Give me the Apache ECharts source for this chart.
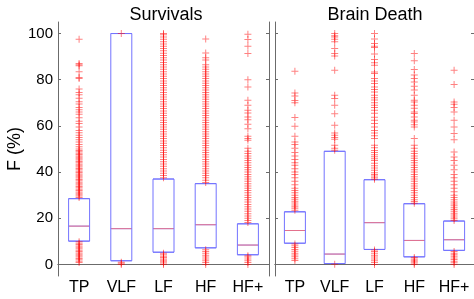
<!DOCTYPE html>
<html>
<head>
<meta charset="utf-8">
<script src="https://cdn.jsdelivr.net/npm/echarts@6/dist/echarts.min.js"></script>
<style>
  html, body { margin: 0; padding: 0; background: #fff; }
  #chart { width: 474px; height: 299px; }
</style>
</head>
<body>
<div id="chart"></div>
<script>
const categories = ['TP', 'VLF', 'LF', 'HF', 'HF+']
const yTicks = [0, 20, 40, 60, 80, 100]

// Survivals: quartiles + median
const survQ1 = [10.1, 1.6, 5.3, 7.2, 4.2]
const survMedian = [16.6, 15.5, 15.5, 17.2, 8.4]
const survQ3 = [28.5, 100, 37, 35, 17.6]

// Brain Death: quartiles + median
const bdQ1 = [9.2, 0.4, 6.5, 3.3, 6.1]
const bdMedian = [14.7, 4.5, 18.1, 10.4, 10.7]
const bdQ3 = [22.8, 49, 36.7, 26.3, 18.8]

// outliers
const survOutTP = [0.8, 1.4, 2, 2.6, 3.2, 3.8, 4.4, 5, 5.6, 6.2, 6.8, 7.4, 8, 8.6, 9.2, 9.8,
  29, 29.6, 30.2, 30.8, 31.4, 32, 32.6, 33.2, 33.8, 34.4, 35, 35.6, 36.2, 36.8, 37.4, 38, 38.6,
  39.2, 39.8, 40.4, 41, 41.6, 42.2, 42.8, 43.4, 44, 44.6, 45.2, 45.8, 46.4, 47, 47.6, 48.2, 48.8,
  49.4, 50, 51, 52, 53, 54, 55, 56, 57, 58, 59.5, 61, 62, 63.5, 65, 66, 67, 68, 69.5, 70.5, 72,
  73.5, 74.5, 76, 80.5, 81, 83.5, 86, 86.5, 87, 97.5]
const survOutVLF = [0, 0.5, 1, 100]
const survOutLF = [0, 0.6, 1.2, 1.8, 2.4, 3, 3.6, 4.2, 4.8,
  37.5, 38.5, 39.5, 40.5, 41.5, 42.5, 43.5, 44.5, 45.5, 46.5, 47.5, 48.5, 49.5, 50.5, 51.5, 52.5,
  53.5, 54.5, 55.5, 56.5, 57.5, 58.5, 59.5, 60.5, 61.5, 62.5, 63.5, 64.5, 65.5, 66.5, 67.5, 68.5,
  69.5, 70.5, 71.5, 72.5, 73.5, 74.5, 75.5, 76.5, 77.5, 78.5, 79.5, 80.5, 81.5, 82.5, 83.5, 84.5,
  85.5, 86.5, 87.5, 88.5, 89.5, 90.5, 91.5, 92.5, 93.5, 94.5, 95.5, 96.5, 97.5, 98.5, 99.5, 100]
const survOutHF = [0, 0.8, 1.6, 2.4, 3.2, 4, 4.8, 5.6, 6.4,
  35.5, 36.5, 37.5, 38.5, 39.5, 40.5, 41.5, 42.5, 43.5, 44.5, 45.5, 46.5, 47.5, 48.5, 49.5, 50.5,
  51.5, 52.5, 53.5, 54.5, 55.5, 56.5, 57.5, 58.5, 59.5, 60.5, 61.5, 62.5, 63.5, 64.5, 65.5, 66.5,
  67.5, 68.5, 69.5, 70.5, 71.5, 72.5, 73.5, 74.5, 75.5, 76.5, 77.5, 78.5, 79.5, 80.5, 81.5, 82.5,
  83.5, 84.5, 85.5, 86.5, 88.5, 89.5, 91.6, 97.6]
const survOutHFp = [0, 0.8, 1.6, 2.4, 3.2, 3.8,
  18.2, 19, 20, 21, 22, 23, 24, 25, 26, 27, 28, 29, 30, 31, 32, 33, 34, 35, 36, 37, 38, 39, 40,
  41, 42, 43, 44, 45, 46, 47, 48, 49, 50.3, 53.8, 54.5, 55.5, 58.8, 60.7, 62.7, 63.9, 65.6, 66.8,
  69, 71.1, 76.9, 80, 91.4, 94.5, 97.4, 99.7]

const bdOutTP = [1.7, 2.5, 3.3, 4.1, 4.9, 5.7, 6.5, 7.3, 8.1, 8.9,
  23.5, 24.3, 25, 25.8, 26.6, 27.4, 28.2, 29, 30, 31, 32, 33, 34.5, 36, 37.5, 39, 40, 41.5, 43,
  44, 45.5, 47, 48.5, 50.3, 52, 53, 55.5, 59.8, 63.6, 70, 71, 72.9, 74.3, 83.7]
const bdOutVLF = [0.1, 49.5, 50.3, 51.6, 54.2, 55, 56, 56.9, 60.3, 65.3, 69, 71.9, 73.3, 84.1,
  90.3, 91.4, 93.5, 96.5, 97.5, 98.5, 99, 100]
const bdOutLF = [0, 0.8, 1.6, 2.4, 3.2, 4, 4.8, 5.6, 6.3,
  36.9, 37.6, 38.3, 39, 39.7, 40.8, 41.8, 42.8, 43.8, 45, 45.8, 46.6, 47.5, 48.5, 49.4, 50.5, 51.6,
  54.6, 55.7, 56.9, 58, 59.5, 61, 62.5, 63.8, 65.5, 66.8, 68, 69, 70, 71.2, 72.2, 73.3, 74.7,
  75.8, 76.9, 78.4, 79.5, 80.5, 82.7, 83.4, 86.3, 87.3, 88.8, 91.1, 94, 94.5, 95.7, 97.6, 100]
const bdOutHF = [0, 0.6, 1.2, 1.8, 2.4, 3,
  26.5, 27.3, 28, 29, 30, 31, 32, 33, 34, 35, 36, 37, 38, 39, 40, 41, 42, 43, 44, 45, 46, 47,
  48, 49, 50.3, 51.6, 54.5, 59.5, 60.5, 61.7, 62.5, 63.9, 65.4, 66, 67.7, 69, 70.4, 71.1, 73.3,
  75.5, 77.2, 79, 80.5, 82, 84.4, 88.2, 91.4]
const bdOutHFp = [0, 0.7, 1.4, 2.1, 2.8, 3.5, 4.2, 4.9, 5.6,
  19, 19.8, 20.6, 21.4, 22.2, 23, 23.8, 24.6, 25.4, 26.2, 27, 28, 29, 30, 31.5, 33, 34.5, 36,
  37.5, 39, 41, 43, 45, 46.5, 48.7, 54, 56.7, 59.5, 62.4, 66, 68, 69.4, 70.4, 77.9, 84.1]

const survOutliers = [survOutTP, survOutVLF, survOutLF, survOutHF, survOutHFp]
const bdOutliers = [bdOutTP, bdOutVLF, bdOutLF, bdOutHF, bdOutHFp]

const FONT = 'Liberation Sans'
const AXIS_COLOR = '#6b6b6b'
const PLUS = 'path://M0,3H7V4H0Z M3,0H4V7H3Z'

const boxData = (q1, med, q3) => q1.map((v, i) => [v, v, med[i], q3[i], q3[i]])
const medData = med => med.map((v, i) => [i, v])
const outData = outs => {
    let res = []
    outs.forEach((arr, i) => arr.forEach(v => res.push([i, v])))
    return res
}

const genAxes = (gi, showLabels) => {
    const x = [
        {
            type: 'category', gridIndex: gi, data: categories, position: 'bottom',
            axisLine: { lineStyle: { color: AXIS_COLOR } },
            axisTick: { show: false },
            axisLabel: { interval: 0, hideOverlap: false, color: '#000', fontFamily: FONT, fontSize: 16, margin: 4 }
        },
        {
            type: 'category', gridIndex: gi, data: categories, position: 'top',
            axisLine: { lineStyle: { color: AXIS_COLOR } },
            axisTick: { inside: true, alignWithLabel: true, interval: 0, length: 3, lineStyle: { color: AXIS_COLOR } },
            axisLabel: { show: false }
        }
    ]
    const y = [
        {
            type: 'value', gridIndex: gi, min: -5, max: 105, position: 'left',
            splitLine: { show: false },
            axisLine: { show: true, lineStyle: { color: AXIS_COLOR } },
            axisTick: { show: true, inside: true, length: 3, customValues: yTicks, lineStyle: { color: AXIS_COLOR } },
            axisLabel: { show: showLabels, customValues: yTicks, color: '#000', fontFamily: FONT, fontSize: 15, margin: 5 },
            name: showLabels ? 'F (%)' : '',
            nameLocation: 'middle', nameGap: 34, nameRotate: 90,
            nameTextStyle: { color: '#000', fontFamily: FONT, fontSize: 18 }
        },
        {
            type: 'value', gridIndex: gi, min: -5, max: 105, position: 'right',
            splitLine: { show: false },
            axisLine: { show: true, lineStyle: { color: AXIS_COLOR } },
            axisTick: { show: true, inside: true, length: 3, customValues: yTicks, lineStyle: { color: AXIS_COLOR } },
            axisLabel: { show: false }
        }
    ]
    return { x, y }
}

const genSeries = (gi, q1, med, q3, outs) => [
    {
        type: 'boxplot', xAxisIndex: gi * 2, yAxisIndex: gi * 2,
        data: boxData(q1, med, q3),
        boxWidth: [21, 21],
        itemStyle: { color: 'transparent', borderColor: '#7373ff', borderWidth: 1 },
        emphasis: { disabled: true },
        z: 2
    },
    {
        type: 'scatter', xAxisIndex: gi * 2, yAxisIndex: gi * 2,
        data: medData(med),
        symbol: 'rect', symbolSize: [20, 1],
        itemStyle: { color: '#ff7070' },
        z: 3
    },
    {
        type: 'scatter', xAxisIndex: gi * 2, yAxisIndex: gi * 2,
        data: outData(outs),
        symbol: PLUS, symbolSize: 7,
        itemStyle: { color: 'rgba(255,0,0,0.62)' },
        z: 4
    }
]

const a0 = genAxes(0, true)
const a1 = genAxes(1, false)

const option = {
    animation: false,
    backgroundColor: '#fff',
    title: [
        { text: 'Survivals', left: 161, top: 1, textAlign: 'center',
          textStyle: { fontFamily: FONT, fontSize: 18, fontWeight: 'normal', color: '#000' } },
        { text: 'Brain Death', left: 370, top: 1, textAlign: 'center',
          textStyle: { fontFamily: FONT, fontSize: 18, fontWeight: 'normal', color: '#000' } }
    ],
    grid: [
        { left: 58, top: 22, width: 211, height: 254 },
        { left: 275, top: 22, width: 202, height: 254 }
    ],
    xAxis: a0.x.concat(a1.x),
    yAxis: a0.y.concat(a1.y),
    series: genSeries(0, survQ1, survMedian, survQ3, survOutliers)
        .concat(genSeries(1, bdQ1, bdMedian, bdQ3, bdOutliers))
}

const myChart = echarts.init(document.getElementById('chart'))
myChart.setOption(option)
</script>
</body>
</html>
